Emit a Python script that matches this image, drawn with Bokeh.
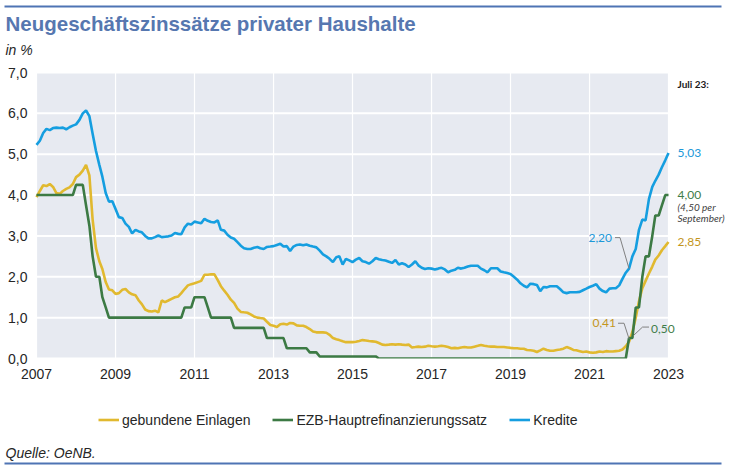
import pandas as pd
from bokeh.plotting import figure
from bokeh.models import Range1d, Label, Legend, LegendItem, BoxAnnotation
from bokeh.core.properties import value
from bokeh.embed import file_html
from bokeh.resources import INLINE

# ---------------- data (monthly, Jul 2007 - Jul 2023) ----------------
months = pd.date_range("2007-07-01", periods=193, freq="MS")

kredite = [
    5.23, 5.33, 5.52, 5.62, 5.59, 5.64, 5.65, 5.64, 5.65, 5.61, 5.66, 5.70,
    5.73, 5.84, 6.00, 6.07, 5.93, 5.50, 5.08, 4.74, 4.45, 4.05, 3.84, 3.85,
    3.66, 3.46, 3.44, 3.30, 3.22, 3.06, 3.15, 3.11, 3.09, 3.00, 2.94, 2.94,
    2.97, 3.01, 2.97, 2.98, 2.99, 3.01, 3.07, 3.05, 3.04, 3.21, 3.30, 3.28,
    3.35, 3.33, 3.31, 3.42, 3.37, 3.34, 3.33, 3.38, 3.15, 3.13, 3.03, 2.96,
    2.93, 2.85, 2.76, 2.70, 2.68, 2.68, 2.71, 2.73, 2.70, 2.68, 2.73, 2.74,
    2.75, 2.78, 2.81, 2.74, 2.75, 2.63, 2.74, 2.78, 2.79, 2.77, 2.79, 2.76,
    2.74, 2.72, 2.64, 2.55, 2.50, 2.44, 2.36, 2.48, 2.50, 2.30, 2.44, 2.40,
    2.36, 2.42, 2.46, 2.38, 2.36, 2.32, 2.38, 2.46, 2.43, 2.41, 2.40, 2.37,
    2.34, 2.41, 2.30, 2.33, 2.30, 2.24, 2.30, 2.38, 2.28, 2.22, 2.19, 2.21,
    2.20, 2.18, 2.20, 2.22, 2.18, 2.11, 2.15, 2.17, 2.22, 2.20, 2.22, 2.25,
    2.27, 2.27, 2.27, 2.20, 2.16, 2.11, 2.21, 2.21, 2.21, 2.13, 2.11, 2.09,
    2.07, 2.00, 1.93, 1.84, 1.78, 1.74, 1.83, 1.82, 1.80, 1.65, 1.75, 1.74,
    1.77, 1.77, 1.77, 1.70, 1.62, 1.60, 1.62, 1.62, 1.62, 1.63, 1.67, 1.71,
    1.75, 1.78, 1.82, 1.71, 1.65, 1.62, 1.71, 1.72, 1.72, 1.79, 1.95, 2.10,
    2.20, 2.50, 2.68, 3.15, 3.40, 3.38, 3.90, 4.20, 4.35, 4.50, 4.68, 4.85,
    5.03,
]

einlagen = [
    3.95, 4.10, 4.24, 4.22, 4.27, 4.20, 4.05, 4.03, 4.10, 4.15, 4.19, 4.27,
    4.44, 4.50, 4.60, 4.74, 4.48, 3.40, 2.70, 2.38, 2.19, 1.87, 1.69, 1.67,
    1.58, 1.60, 1.68, 1.70, 1.62, 1.57, 1.55, 1.42, 1.33, 1.20, 1.16, 1.15,
    1.17, 1.13, 1.42, 1.38, 1.42, 1.46, 1.50, 1.52, 1.60, 1.70, 1.79, 1.82,
    1.84, 1.87, 1.90, 2.05, 2.05, 2.06, 2.06, 1.92, 1.77, 1.66, 1.56, 1.44,
    1.36, 1.22, 1.14, 1.13, 1.12, 1.08, 1.03, 1.00, 0.99, 0.98, 0.90, 0.82,
    0.80, 0.77, 0.84, 0.85, 0.83, 0.87, 0.86, 0.81, 0.80, 0.80, 0.77, 0.72,
    0.66, 0.64, 0.64, 0.64, 0.63, 0.58, 0.50, 0.47, 0.45, 0.42, 0.40, 0.40,
    0.40, 0.41, 0.43, 0.45, 0.44, 0.43, 0.42, 0.41, 0.38, 0.34, 0.33, 0.34,
    0.35, 0.34, 0.35, 0.34, 0.33, 0.34, 0.27, 0.28, 0.29, 0.28, 0.29, 0.31,
    0.30, 0.29, 0.30, 0.31, 0.30, 0.28, 0.25, 0.26, 0.25, 0.27, 0.28, 0.27,
    0.27, 0.29, 0.31, 0.33, 0.31, 0.30, 0.29, 0.29, 0.28, 0.28, 0.28, 0.27,
    0.26, 0.25, 0.25, 0.24, 0.24, 0.21, 0.20, 0.19, 0.16, 0.20, 0.24, 0.21,
    0.19, 0.19, 0.21, 0.22, 0.24, 0.28, 0.25, 0.21, 0.20, 0.18, 0.16, 0.17,
    0.15, 0.14, 0.15, 0.17, 0.16, 0.18, 0.17, 0.17, 0.18, 0.19, 0.22, 0.30,
    0.41, 0.65, 1.00, 1.40, 1.72, 1.90, 2.08, 2.25, 2.42, 2.52, 2.65, 2.75,
    2.85,
]

ezb = [
    4.00, 4.00, 4.00, 4.00, 4.00, 4.00, 4.00, 4.00, 4.00, 4.00, 4.00, 4.00,
    4.25, 4.25, 4.25, 3.75, 3.25, 2.50, 2.00, 2.00, 1.50, 1.25, 1.00, 1.00,
    1.00, 1.00, 1.00, 1.00, 1.00, 1.00, 1.00, 1.00, 1.00, 1.00, 1.00, 1.00,
    1.00, 1.00, 1.00, 1.00, 1.00, 1.00, 1.00, 1.00, 1.00, 1.25, 1.25, 1.25,
    1.50, 1.50, 1.50, 1.50, 1.25, 1.00, 1.00, 1.00, 1.00, 1.00, 1.00, 1.00,
    0.75, 0.75, 0.75, 0.75, 0.75, 0.75, 0.75, 0.75, 0.75, 0.75, 0.50, 0.50,
    0.50, 0.50, 0.50, 0.50, 0.25, 0.25, 0.25, 0.25, 0.25, 0.25, 0.25, 0.15,
    0.15, 0.15, 0.05, 0.05, 0.05, 0.05, 0.05, 0.05, 0.05, 0.05, 0.05, 0.05,
    0.05, 0.05, 0.05, 0.05, 0.05, 0.05, 0.05, 0.05, 0.00, 0.00, 0.00, 0.00,
    0.00, 0.00, 0.00, 0.00, 0.00, 0.00, 0.00, 0.00, 0.00, 0.00, 0.00, 0.00,
    0.00, 0.00, 0.00, 0.00, 0.00, 0.00, 0.00, 0.00, 0.00, 0.00, 0.00, 0.00,
    0.00, 0.00, 0.00, 0.00, 0.00, 0.00, 0.00, 0.00, 0.00, 0.00, 0.00, 0.00,
    0.00, 0.00, 0.00, 0.00, 0.00, 0.00, 0.00, 0.00, 0.00, 0.00, 0.00, 0.00,
    0.00, 0.00, 0.00, 0.00, 0.00, 0.00, 0.00, 0.00, 0.00, 0.00, 0.00, 0.00,
    0.00, 0.00, 0.00, 0.00, 0.00, 0.00, 0.00, 0.00, 0.00, 0.00, 0.00, 0.00,
    0.50, 0.50, 1.25, 1.25, 2.00, 2.50, 2.50, 3.00, 3.50, 3.50, 3.75, 4.00,
    4.00,
]

series_names = ["gebundene Einlagen", "EZB-Hauptrefinanzierungssatz", "Kredite"]
tick_years = [2007, 2009, 2011, 2013, 2015, 2017, 2019, 2021, 2023]
y_ticks = [0, 1, 2, 3, 4, 5, 6, 7]
y_tick_labels = ["0,0", "1,0", "2,0", "3,0", "4,0", "5,0", "6,0", "7,0"]
ref_month = "2022-07-01"   # annotated month (Juli 22)

# ---------------- layout / styling ----------------
W, H = 730, 465
PL, PR, PT, PB = 36, 668, 72, 358      # plot area in canvas pixels
C_EIN = "#e1b92f"
C_EZB = "#3c7a44"
C_KRE = "#159ee0"
C_EIN_T = "#c4961c"
C_EZB_T = "#3f7d4a"
C_KRE_T = "#1c98d8"
FONT = "Liberation Sans"
FONT2 = "Lato"
TXT = "#262626"
BG = "#e7eaf1"


def ms(ts):
    return pd.Timestamp(ts).value / 1e6


x_ms = [ms(t) for t in months]
x0, x1 = x_ms[0], x_ms[-1]
y0, y1 = y_ticks[0], y_ticks[-1]
kx = (x1 - x0) / (PR - PL)      # ms per pixel
ky = (y1 - y0) / (PB - PT)      # value per pixel

p = figure(width=W, height=H, output_backend="svg", toolbar_location=None,
           x_range=Range1d(x0 - PL * kx, x0 + (W - PL) * kx),
           y_range=Range1d(y0 - (H - PB) * ky, y1 + PT * ky),
           min_border=0, x_axis_location=None, y_axis_location=None)
p.title.visible = False
p.background_fill_color = "white"
p.border_fill_color = "white"
p.outline_line_color = None
p.xgrid.visible = False
p.ygrid.visible = False

# plot area, grid and tick labels (drawn through the data scales)
p.quad(left=x0, right=x1, bottom=y0, top=y1, fill_color=BG, line_color=None)
tick_ms = [ms(f"{y}-07-01") for y in tick_years]
p.segment(x0=x0, x1=x1, y0=y_ticks, y1=y_ticks, line_color="white",
          line_width=2)
p.segment(x0=tick_ms, x1=tick_ms, y0=y0, y1=y1, line_color="white",
          line_width=1.2)
p.text(x=x0, y=y_ticks, text=y_tick_labels, x_offset=-9, text_align="right",
       text_baseline="middle", text_font=value(FONT), text_font_size="14px",
       text_color=TXT)
p.text(x=tick_ms, y=y0, text=[str(y) for y in tick_years], y_offset=10,
       text_align="center", text_baseline="top", text_font=value(FONT),
       text_font_size="14px", text_color=TXT)

r_e = p.line(x_ms, einlagen, color=C_EIN, line_width=2.6)
r_z = p.line(x_ms, ezb, color=C_EZB, line_width=2.6)
r_k = p.line(x_ms, kredite, color=C_KRE, line_width=2.6)

# the lines are cut at the lower edge of the plot area
p.quad(left=x0 - 2 * kx, right=x1 + 2 * kx, top=y0, bottom=y0 - 3 * ky,
       fill_color="white", line_color=None)

legend = Legend(items=[LegendItem(label=series_names[0], renderers=[r_e]),
                       LegendItem(label=series_names[1], renderers=[r_z]),
                       LegendItem(label=series_names[2], renderers=[r_k])],
                orientation="horizontal", location=(98, H - 428),
                glyph_width=21, glyph_height=17, label_standoff=3,
                spacing=22, padding=0, margin=0, border_line_color=None,
                background_fill_alpha=0, label_text_font=FONT,
                label_text_font_size="14px", label_text_color=TXT,
                label_height=17)
p.add_layout(legend)


def slabel(px, py, text, **kw):
    opts = dict(x=px, y=H - py, x_units="screen", y_units="screen", text=text,
                text_baseline="middle", text_align="left")
    opts.update(kw)
    p.add_layout(Label(**opts))


slabel(5, 23, "Neugeschäftszinssätze privater Haushalte", text_font=FONT,
       text_font_style="bold", text_font_size="20.5px", text_color="#5677b0")
slabel(5, 49, "in %", text_font=FONT, text_font_style="italic",
       text_font_size="14px", text_color=TXT)
slabel(5, 452, "Quelle: OeNB.", text_font=FONT, text_font_style="italic",
       text_font_size="14px", text_color=TXT)
slabel(677, 83, "Juli 23:", text_font=FONT2, text_font_style="bold",
       text_font_size="10px", text_color="#1a1a1a")

# horizontal rules at top and bottom
for top, bottom in ((H - 5, H - 7), (H - 462, H - 464)):
    p.add_layout(BoxAnnotation(left=4, right=721, top=top, bottom=bottom,
                               left_units="screen", right_units="screen",
                               top_units="screen", bottom_units="screen",
                               fill_color="#4f74b4", fill_alpha=1,
                               line_color=None))


def fmt(v):
    return f"{v:.2f}".replace(".", ",")


# end-of-series values (Juli 23)
for vals, col in ((kredite, C_KRE_T), (ezb, C_EZB_T), (einlagen, C_EIN_T)):
    p.add_layout(Label(x=x1, y=vals[-1], x_offset=9, text=fmt(vals[-1]),
                       text_baseline="middle", text_align="left",
                       text_font=FONT2, text_font_size="12px",
                       text_color=col))
for off, txt in ((-12, "(4,50 per"), (-23, "September)")):
    p.add_layout(Label(x=x1, y=ezb[-1], x_offset=9, y_offset=off,
                       text=txt, text_baseline="middle", text_align="left",
                       text_font=FONT2, text_font_style="italic",
                       text_font_size="10px", text_color="#404040"))

# call-outs for Juli 22
ri = list(months).index(pd.Timestamp(ref_month))


def leader(vals, pts, lx, ly, align, col):
    xs = [x_ms[ri] + dx * kx for dx, dy in pts]
    ys = [vals[ri] + dy * ky for dx, dy in pts]
    p.line(xs, ys, color="#808080", line_width=1)
    p.add_layout(Label(x=x_ms[ri], y=vals[ri], x_offset=lx, y_offset=ly,
                       text=fmt(vals[ri]), text_baseline="middle",
                       text_align=align, text_font=FONT2,
                       text_font_size="12px", text_color=col))


leader(kredite, [(-14, 31), (-9, 31), (0, 0)], -17, 31, "right", C_KRE_T)
leader(einlagen, [(-11, 18.5), (-5, 18.5), (0, 3)], -13, 19, "right", C_EIN_T)
leader(ezb, [(20, 11), (13.5, 11), (4.5, 2.6)], 22, 9, "left", C_EZB_T)

open("out.html", "w").write(file_html(p, INLINE))
